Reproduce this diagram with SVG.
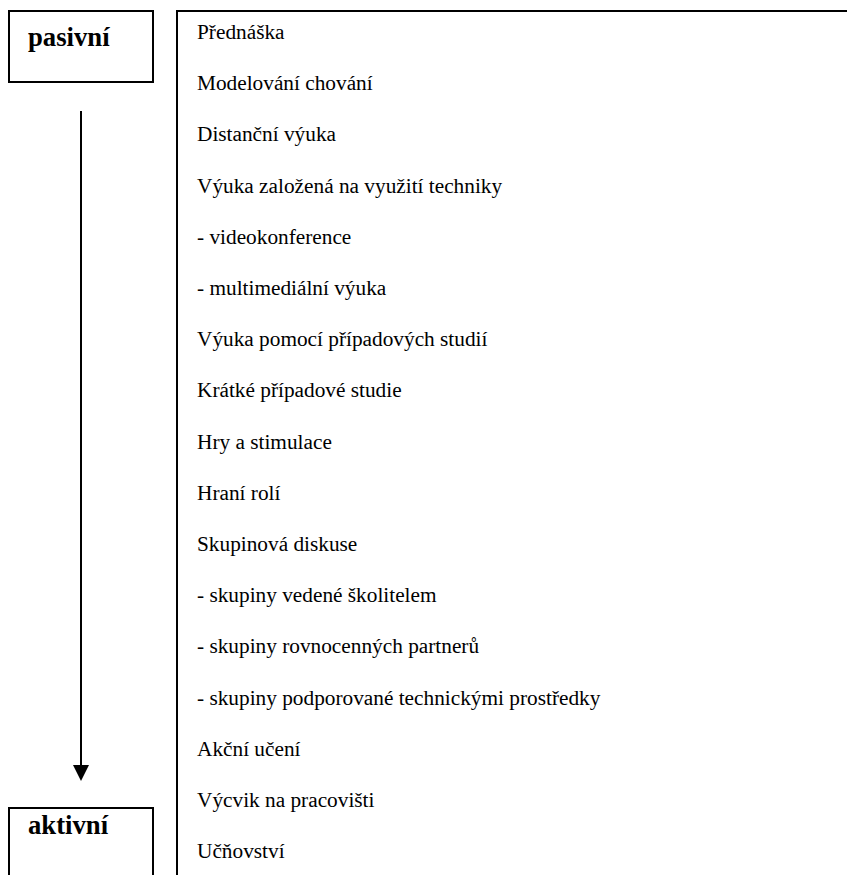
<svg xmlns="http://www.w3.org/2000/svg" width="847" height="875" viewBox="0 0 847 875">
  <defs>
    <marker id="arrowhead" viewBox="0 0 16 16" refX="8" refY="16" markerWidth="16" markerHeight="16" markerUnits="userSpaceOnUse" orient="auto-start-reverse">
      <path d="M0,0 L16,0 L8,16 Z" fill="#000"/>
    </marker>
  </defs>
  <style>
    .frame { fill: none; stroke: #000; stroke-width: 2; }
    .pole { font-family: "Liberation Serif", "Times New Roman", serif; font-weight: bold; font-size: 26.7px; fill: #000; }
    .item { font-family: "Liberation Serif", "Times New Roman", serif; font-size: 21.3px; fill: #000; }
    .link { stroke: #000; stroke-width: 2; fill: none; }
  </style>
  <rect width="847" height="875" fill="#fff"/>

  <g id="pasivni">
    <rect class="frame" x="9" y="11" width="144" height="71"/>
    <text class="pole" x="28" y="46">pasivní</text>
  </g>

  <g id="aktivni">
    <path class="frame" d="M9,880 V808 H153 V880"/>
    <text class="pole" x="28" y="834">aktivní</text>
  </g>

  <g id="connectors">
    <line class="link" x1="81" y1="111" x2="81" y2="765"/>
    <path d="M73,765 L89,765 L81,781 Z" fill="#000"/>
  </g>

  <g id="methods">
    <path class="frame" d="M177,880 V11 H850"/>
    <text class="item" x="197" y="39">Přednáška</text>
    <text class="item" x="197" y="90.2">Modelování chování</text>
    <text class="item" x="197" y="141.4">Distanční výuka</text>
    <text class="item" x="197" y="192.6">Výuka založená na využití techniky</text>
    <text class="item" x="197" y="243.8">- videokonference</text>
    <text class="item" x="197" y="295">- multimediální výuka</text>
    <text class="item" x="197" y="346.2">Výuka pomocí případových studií</text>
    <text class="item" x="197" y="397.4">Krátké případové studie</text>
    <text class="item" x="197" y="448.6">Hry a stimulace</text>
    <text class="item" x="197" y="499.8">Hraní rolí</text>
    <text class="item" x="197" y="551">Skupinová diskuse</text>
    <text class="item" x="197" y="602.2">- skupiny vedené školitelem</text>
    <text class="item" x="197" y="653.4">- skupiny rovnocenných partnerů</text>
    <text class="item" x="197" y="704.6">- skupiny podporované technickými prostředky</text>
    <text class="item" x="197" y="755.8">Akční učení</text>
    <text class="item" x="197" y="807">Výcvik na pracovišti</text>
    <text class="item" x="197" y="858.2">Učňovství</text>
  </g>
</svg>
